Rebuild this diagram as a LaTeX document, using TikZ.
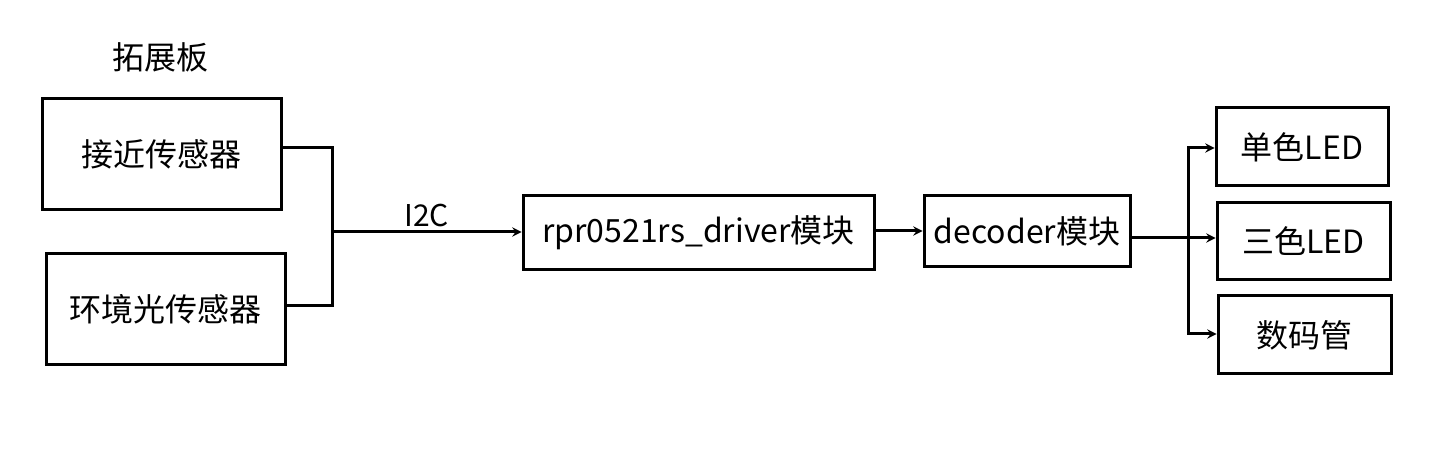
\documentclass[tikz,border=0pt]{standalone}
\usepackage{fontspec}
\setmainfont{Noto Sans CJK SC}
\usetikzlibrary{positioning}
\begin{document}
\begin{tikzpicture}[x=1pt,y=-1pt,line width=3pt,>=stealth,
  blk/.style={draw,inner sep=0pt,font=\fontsize{32}{36}\selectfont}]
\useasboundingbox (0,0) rectangle (1452,454);
% sensors on the extension board
\node[font=\fontsize{32}{36}\selectfont] (board) at (160,57) {拓展板};
\node[blk,minimum width=239pt,minimum height=111pt] (prox) at (161.5,154.5) {接近传感器};
\node[blk,minimum width=239pt,minimum height=111pt] (amb) at (165.5,309.5) {环境光传感器};
% driver chain
\node[blk,minimum width=351pt,minimum height=74pt] (drv) at (698.5,233) {rpr0521rs\_driver模块};
\node[blk,minimum width=206pt,minimum height=71pt] (dec) at (1027,231.5) {decoder模块};
% outputs
\node[blk,minimum width=172pt,minimum height=78pt] (led1) at (1302,147) {单色LED};
\node[blk,minimum width=173pt,minimum height=77pt] (led3) at (1303.5,241.5) {三色LED};
\node[blk,minimum width=173pt,minimum height=78pt] (seg) at (1304.5,335) {数码管};
% bus
\coordinate (bus) at (332,232);
\draw (prox.east |- 0,148) -| (bus) |- (amb.east |- 0,306);
\draw[->] (bus) -- node[above,font=\fontsize{30}{34}\selectfont] {I2C} (drv.west |- bus);
\draw[->] (drv.east |- 0,231) -- (dec.west |- 0,231);
% fan-out
\coordinate (fan) at (1188,238);
\draw (dec.east |- fan) -- (fan);
\draw[->] (fan) |- (led1.west |- 0,148);
\draw[->] (fan) -- (led3.west |- fan);
\draw[->] (fan) |- (seg.west |- 0,334);
\end{tikzpicture}
\end{document}
